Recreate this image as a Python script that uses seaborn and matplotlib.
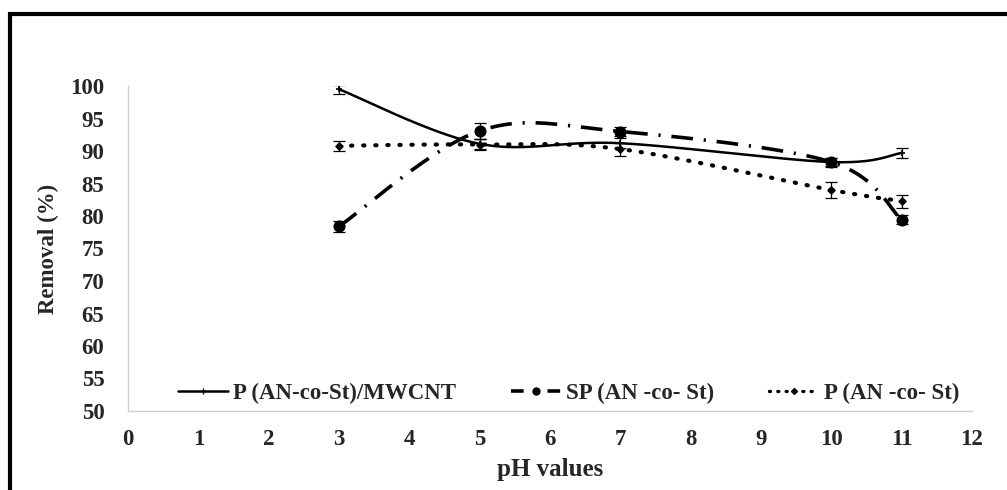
import numpy as np
import pandas as pd
import matplotlib
matplotlib.use("Agg")
import matplotlib.pyplot as plt
import seaborn as sns
from matplotlib.lines import Line2D
from matplotlib.patches import Rectangle

# pH values tested
ph = [3, 5, 7, 10, 11]

# Removal (%) for each sorbent
mwcnt = [99.5, 91.1, 91.2, 88.3, 89.7]
sp = [78.4, 93.1, 93.0, 88.3, 79.4]
plain = [90.8, 91.0, 90.3, 84.0, 82.3]

# Standard deviations
mwcnt_err = [0.7, 0.8, 0.8, 0.7, 0.8]
sp_err = [0.8, 1.2, 0.7, 0.6, 0.7]
plain_err = [0.8, 0.9, 1.0, 1.2, 1.0]

labels = ["P (AN-co-St)/MWCNT", "SP (AN -co- St)", "P (AN -co- St)"]
x_ticks = list(range(0, 13))
y_ticks = list(range(50, 101, 5))

sns.set_theme(style="white")
plt.rcParams["font.family"] = ["Liberation Serif", "DejaVu Serif"]


def smooth_path(x, y, n=40):
    """Smoothed line: cubic Bezier segments with Catmull-Rom tangents."""
    x = np.asarray(x, float)
    y = np.asarray(y, float)
    pts = np.column_stack([x, y])
    out = []
    m = len(pts)
    for i in range(m - 1):
        p0 = pts[i - 1] if i > 0 else pts[i]
        p1 = pts[i]
        p2 = pts[i + 1]
        p3 = pts[i + 2] if i + 2 < m else pts[i + 1]
        c1 = p1 + (p2 - p0) / 6.0
        c2 = p2 - (p3 - p1) / 6.0
        t = np.linspace(0, 1, n)[:, None]
        seg = ((1 - t) ** 3) * p1 + 3 * ((1 - t) ** 2) * t * c1 + 3 * (1 - t) * t ** 2 * c2 + t ** 3 * p2
        out.append(seg if i == 0 else seg[1:])
    seg = np.vstack(out)
    return seg[:, 0], seg[:, 1]


fig = plt.figure(figsize=(10.07, 4.9), dpi=100)
ax = fig.add_axes([128 / 1007, 1 - 411 / 490, (972 - 128) / 1007, (411 - 86) / 490])

series = [
    (mwcnt, mwcnt_err, "-", "+", 5, dict(lw=1.8)),
    (sp, sp_err, (0, (6, 3, 0.6, 3)), "o", 7.5, dict(lw=2.6)),
    (plain, plain_err, (0, (0.3, 2.6)), "D", 3.5, dict(lw=3.0, dash_capstyle="round")),
]

for (vals, errs, ls, mk, ms, kw), lab in zip(series, labels):
    sx, sy = smooth_path(ph, vals)
    ax.plot(sx, sy, color="black", linestyle=ls, **kw)
    ax.errorbar(ph, vals, yerr=errs, fmt="none", ecolor="black", elinewidth=0.9,
                capsize=4, capthick=0.9)
    df = pd.DataFrame({"pH": ph, "Removal": vals})
    sns.scatterplot(data=df, x="pH", y="Removal", marker=mk, s=ms ** 2,
                    color="black", edgecolor="black", linewidth=1.2, ax=ax, zorder=5)

ax.set_xlim(0, 12)
ax.set_ylim(50, 100)
ax.set_xticks(x_ticks)
ax.set_yticks(y_ticks)
ax.set_xticklabels([str(t) for t in x_ticks], fontsize=16.5, fontweight="bold")
ax.set_yticklabels([str(t) for t in y_ticks], fontsize=16.5, fontweight="bold")
ax.tick_params(axis="both", length=0)
ax.tick_params(axis="y", pad=17)
ax.tick_params(axis="x", pad=13)

for side in ["top", "right"]:
    ax.spines[side].set_visible(False)
for side in ["left", "bottom"]:
    ax.spines[side].set_color("#d0d0d0")
    ax.spines[side].set_linewidth(1.0)

ax.set_xlabel("pH values", fontsize=18, fontweight="bold", labelpad=6)
ax.set_ylabel("Removal (%)", fontsize=16.5, fontweight="bold", labelpad=8)

handles = [
    Line2D([], [], color="black", linestyle="-", lw=1.8, marker="+", markersize=5),
    Line2D([], [], color="black", linestyle=(0, (3.5, 3, 0.6, 3)), lw=2.6, marker="o", markersize=5),
    Line2D([], [], color="black", linestyle=(0, (0.3, 2.2)), lw=2.4, marker="D",
           markersize=3, dash_capstyle="round"),
]
leg = ax.legend(handles, labels, loc="center", bbox_to_anchor=(0.522, 0.055), ncol=3,
                frameon=False, handlelength=2.2, handletextpad=0.2, columnspacing=2.4,
                prop={"family": "Liberation Serif", "weight": "bold", "size": 16.5})

# outer frame
fig.patches.append(Rectangle((9.5 / 1007, -0.1), 1.2, 1 - 14.5 / 490 + 0.1,
                             transform=fig.transFigure, fill=False,
                             edgecolor="black", linewidth=3, zorder=10))

fig.savefig("out.png", dpi=100)
